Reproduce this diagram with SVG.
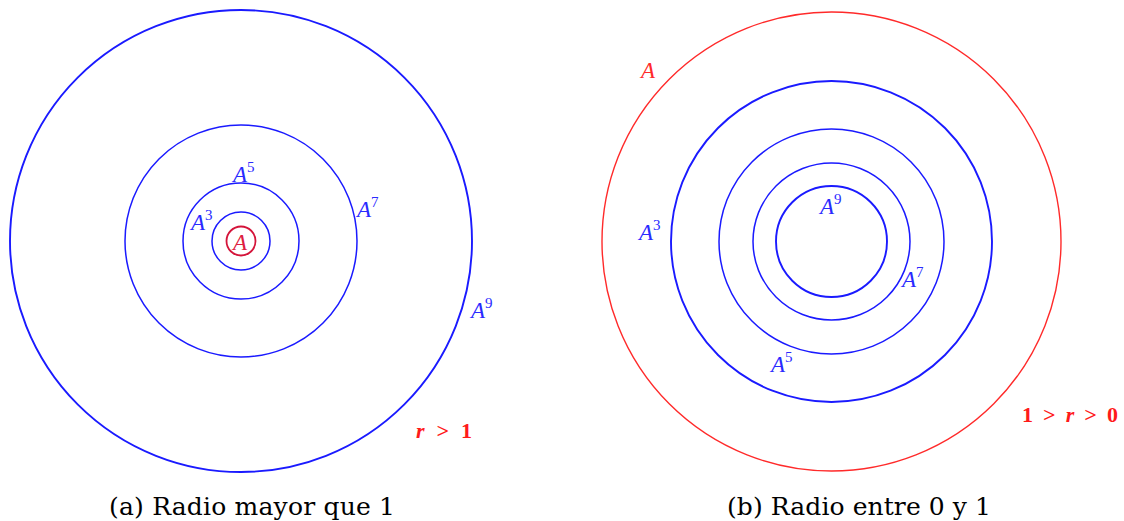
<svg xmlns="http://www.w3.org/2000/svg" width="1124" height="521" viewBox="0 0 1124 521">
<style>
.b{fill:none;stroke:#1a1aff;stroke-width:1.5}
.bt{fill:none;stroke:#1a1aff;stroke-width:1.9}
.r{fill:none;stroke:#ff2a2a;stroke-width:1.4}
.rc{fill:none;stroke:#d4143a;stroke-width:1.8}
.lb{font-family:"Liberation Serif","DejaVu Serif",serif;font-style:italic;font-size:23px;fill:#2a2aff}
.lr{font-family:"Liberation Serif","DejaVu Serif",serif;font-style:italic;font-size:23px;fill:#ff2a2a}
.sup{font-style:normal;font-size:15px}
.cond{font-family:"Liberation Serif","DejaVu Serif",serif;font-weight:bold;font-size:22px;fill:#ff1a1a}
.cap{font-family:"DejaVu Serif","Liberation Serif",serif;font-size:25px;fill:#000}
</style>
<rect width="1124" height="521" fill="#fff"/>
<g id="left">
  <g id="L-A9"><circle class="bt" cx="241" cy="241" r="231"/><text class="lb" x="471" y="318">A<tspan class="sup" dy="-10">9</tspan></text></g>
  <g id="L-A7"><circle class="b" cx="241" cy="241" r="116"/><text class="lb" x="357" y="217">A<tspan class="sup" dy="-10">7</tspan></text></g>
  <g id="L-A5"><circle class="b" cx="241" cy="241" r="58"/><text class="lb" x="233" y="182">A<tspan class="sup" dy="-10">5</tspan></text></g>
  <g id="L-A3"><circle class="b" cx="241" cy="241" r="29"/><text class="lb" x="191" y="230">A<tspan class="sup" dy="-10">3</tspan></text></g>
  <g id="L-A"><circle class="rc" cx="241" cy="241" r="14.5"/><text class="lr" x="233" y="250" style="fill:#dd2040">A</text></g>
  <text class="cond" x="416" y="438" textLength="56" lengthAdjust="spacing"><tspan font-style="italic">r</tspan> &gt; 1</text>
  <text class="cap" x="109" y="515" textLength="286" lengthAdjust="spacing">(a) Radio mayor que 1</text>
</g>
<g id="right">
  <g id="R-A"><circle class="r" cx="831.5" cy="241.5" r="229.5"/><text class="lr" x="641" y="78">A</text></g>
  <g id="R-A3"><circle class="bt" cx="831.5" cy="241.5" r="160.5"/><text class="lb" x="639" y="240">A<tspan class="sup" dy="-10">3</tspan></text></g>
  <g id="R-A5"><circle class="b" cx="831.5" cy="241.5" r="112.5"/><text class="lb" x="771" y="372">A<tspan class="sup" dy="-10">5</tspan></text></g>
  <g id="R-A7"><circle class="b" cx="831.5" cy="241.5" r="78.5"/><text class="lb" x="902" y="287">A<tspan class="sup" dy="-10">7</tspan></text></g>
  <g id="R-A9"><circle class="bt" cx="831.5" cy="241.5" r="55.5"/><text class="lb" x="820" y="214">A<tspan class="sup" dy="-10">9</tspan></text></g>
  <text class="cond" x="1022" y="422" textLength="96" lengthAdjust="spacing">1 &gt; <tspan font-style="italic">r</tspan> &gt; 0</text>
  <text class="cap" x="727" y="515" textLength="264" lengthAdjust="spacing">(b) Radio entre 0 y 1</text>
</g>
</svg>
